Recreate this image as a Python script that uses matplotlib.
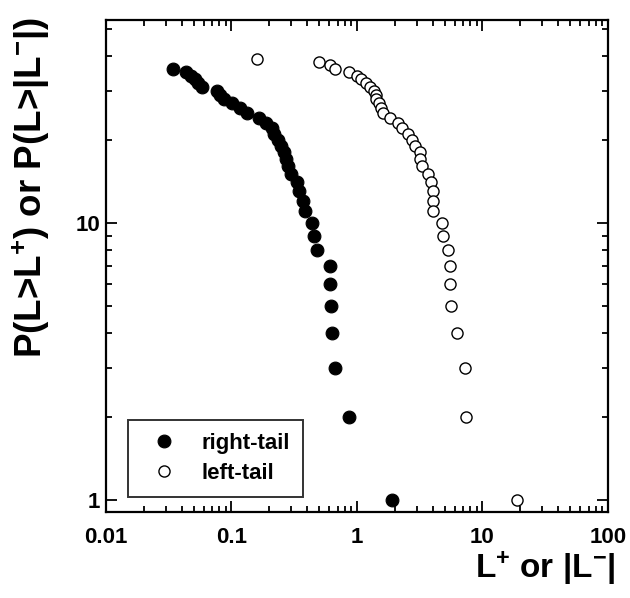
import matplotlib
matplotlib.use("Agg")
import matplotlib.pyplot as plt
from matplotlib.ticker import LogLocator, NullFormatter, FixedLocator, FixedFormatter

plt.rcParams['font.family'] = ['Liberation Sans', 'DejaVu Sans']
plt.rcParams['font.weight'] = 'bold'
plt.rcParams['mathtext.fontset'] = 'custom'
plt.rcParams['mathtext.rm'] = 'Liberation Sans:bold'
plt.rcParams['mathtext.it'] = 'Liberation Sans:bold'
plt.rcParams['mathtext.bf'] = 'Liberation Sans:bold'
plt.rcParams['mathtext.sf'] = 'Liberation Sans:bold'

# right-tail: L+ values with their cumulative counts
right_x = [0.0340, 0.0434, 0.0476, 0.0512, 0.0541, 0.0579, 0.0762, 0.0810, 0.0872,
           0.101, 0.117, 0.133, 0.166, 0.188, 0.210, 0.218, 0.235, 0.248, 0.264,
           0.272, 0.282, 0.298, 0.333, 0.342, 0.368, 0.385, 0.438, 0.454, 0.483,
           0.609, 0.614, 0.626, 0.628, 0.668, 0.864, 1.89]
right_y = [36, 35, 34, 33, 32, 31, 30, 29, 28, 27, 26, 25, 24, 23, 22, 21, 20, 19,
           18, 17, 16, 15, 14, 13, 12, 11, 10, 9, 8, 7, 6, 5, 4, 3, 2, 1]

# left-tail: |L-| values with their cumulative counts
left_x = [0.159, 0.501, 0.609, 0.668, 0.868, 0.995, 1.076, 1.19, 1.258, 1.366,
          1.417, 1.430, 1.511, 1.567, 1.612, 1.832, 2.141, 2.271, 2.549, 2.743,
          2.899, 3.148, 3.195, 3.266, 3.679, 3.923, 4.055, 4.055, 4.055, 4.73,
          4.82, 5.34, 5.51, 5.51, 5.58, 6.23, 7.25, 7.39, 18.8]
left_y = [39, 38, 37, 36, 35, 34, 33, 32, 31, 30, 29, 28, 27, 26, 25, 24, 23, 22,
          21, 20, 19, 18, 17, 16, 15, 14, 13, 12, 11, 10, 9, 8, 7, 6, 5, 4, 3, 2, 1]

labels = ['right-tail', 'left-tail']
x_ticks = [0.01, 0.1, 1, 10, 100]
x_ticklabels = ['0.01', '0.1', '1', '10', '100']
y_ticks = [1, 10]
y_ticklabels = ['1', '10']

fig = plt.figure(figsize=(6.30, 5.98), dpi=100)
ax = fig.add_axes([106/630, 1-512/598, 502/630, 492/598])

ax.plot(right_x, right_y, 'o', ms=9.2, mfc='black', mec='black', mew=0.8,
        linestyle='none', label=labels[0])
ax.plot(left_x, left_y, 'o', ms=8.0, mfc='white', mec='black', mew=1.0,
        linestyle='none', label=labels[1])

ax.set_xscale('log')
ax.set_yscale('log')
ax.set_xlim(0.01, 100)
ax.set_ylim(0.905, 54)

ax.xaxis.set_major_locator(FixedLocator(x_ticks))
ax.xaxis.set_major_formatter(FixedFormatter(x_ticklabels))
ax.yaxis.set_major_locator(FixedLocator(y_ticks))
ax.yaxis.set_major_formatter(FixedFormatter(y_ticklabels))
ax.xaxis.set_minor_locator(LogLocator(base=10, subs=range(2, 10)))
ax.yaxis.set_minor_locator(LogLocator(base=10, subs=range(2, 10)))
ax.xaxis.set_minor_formatter(NullFormatter())
ax.yaxis.set_minor_formatter(NullFormatter())

ax.tick_params(which='both', direction='in', top=True, right=True, width=1.3)
ax.tick_params(which='major', length=8, labelsize=16)
ax.tick_params(axis='x', which='major', pad=11)
ax.tick_params(axis='y', which='major', pad=4)
ax.tick_params(which='minor', length=4)
for lab in ax.get_xticklabels() + ax.get_yticklabels():
    lab.set_fontweight('bold')
for s in ax.spines.values():
    s.set_linewidth(1.6)

ax.set_xlabel(r'$\mathrm{L^{+}}$ or $\mathrm{|L^{-}|}$', fontsize=24, fontweight='bold')
ax.xaxis.set_label_coords(1.015, -0.076)
ax.xaxis.label.set_horizontalalignment('right')
ax.xaxis.label.set_verticalalignment('top')
ax.set_ylabel(r'P(L>L$\mathrm{^{+}}$) or P(L>|L$\mathrm{^{-}}$|)', fontsize=26.5, fontweight='bold')
ax.yaxis.set_label_coords(-0.107, 0.66)

leg = ax.legend(loc='lower left', bbox_to_anchor=(0.044, 0.03), frameon=True,
                fancybox=False, edgecolor='black', fontsize=16, handletextpad=0.7,
                borderpad=0.6, labelspacing=0.4, handlelength=2.0, borderaxespad=0)
leg.get_frame().set_linewidth(1.4)
for t in leg.get_texts():
    t.set_fontweight('bold')

fig.savefig('out.png', dpi=100)
